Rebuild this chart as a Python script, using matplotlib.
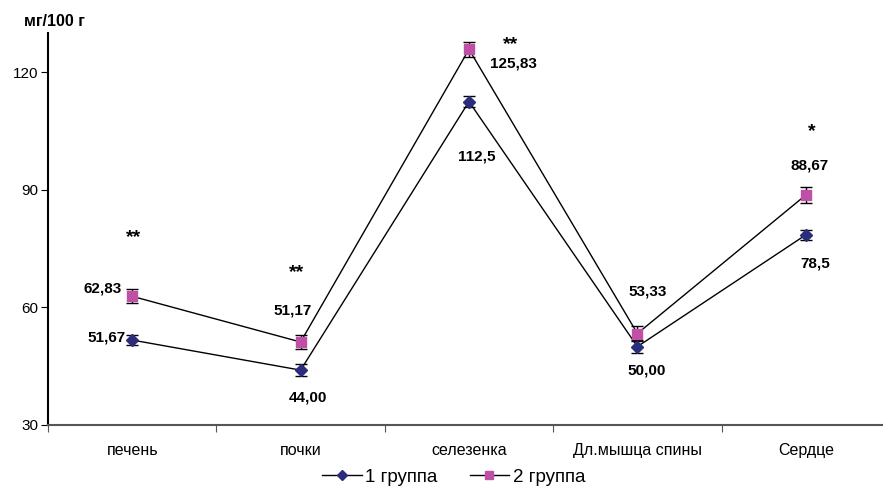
import matplotlib
matplotlib.use('Agg')
import matplotlib.pyplot as plt
from matplotlib.lines import Line2D
import numpy as np

plt.rcParams['font.family'] = ['Liberation Sans', 'DejaVu Sans']

organs = ['печень', 'почки', 'селезенка', 'Дл.мышца спины', 'Сердце']
gr1 = [51.67, 44.00, 112.5, 50.00, 78.5]
gr2 = [62.83, 51.17, 125.83, 53.33, 88.67]
err1 = [1.2, 1.5, 1.5, 1.7, 1.3]
err2 = [1.8, 1.8, 2.0, 1.8, 2.1]
lab1 = ['51,67', '44,00', '112,5', '50,00', '78,5']
lab2 = ['62,83', '51,17', '125,83', '53,33', '88,67']
stars = ['**', '**', '**', '', '*']

# смещения подписей (пиксели, вверх +)
off1 = [(-7, 3, 'right'), (7, -27, 'center'), (8, -55, 'center'), (9, -24, 'center'), (9, -29, 'center')]
off2 = [(-10, 8, 'right'), (-8, 32, 'center'), (44, -14, 'center'), (10, 42, 'center'), (4, 30, 'center')]
off_st = [(1, 59), (-4, 69), (42, 5), (0, 0), (6, 63)]

fig = plt.figure(figsize=(8.83, 4.86), dpi=100)
ax = fig.add_axes([48/883, 61/486, 842/883, 392/486])

x = np.arange(len(organs)) + 0.5
c1 = '#2B2C7C'
c2 = '#C04FA6'

ax.errorbar(x, gr1, yerr=err1, color='black', lw=1, ecolor='black', elinewidth=1,
            capsize=4, capthick=1, marker='D', ms=6, mfc=c1, mec=c1, zorder=3)
ax.errorbar(x, gr2, yerr=err2, color='black', lw=1, ecolor='black', elinewidth=1,
            capsize=4, capthick=1, marker='s', ms=6.5, mfc=c2, mec=c2, zorder=3)

for i in range(len(organs)):
    dx, dy, ha = off1[i]
    ax.annotate(lab1[i], (x[i], gr1[i]), xytext=(dx, dy), textcoords='offset pixels',
                ha=ha, va='center', fontsize=11, fontweight='bold')
    dx, dy, ha = off2[i]
    ax.annotate(lab2[i], (x[i], gr2[i]), xytext=(dx, dy), textcoords='offset pixels',
                ha=ha, va='center', fontsize=11, fontweight='bold')
    if stars[i]:
        dx, dy = off_st[i]
        ax.annotate(stars[i], (x[i], gr2[i]), xytext=(dx, dy), textcoords='offset pixels',
                    ha='center', va='center', fontsize=14, fontweight='bold')

ax.set_xlim(0, len(organs))
ax.set_ylim(30, 130)
ax.set_yticks([30, 60, 90, 120])
ax.set_xticks(np.arange(len(organs) + 1))
ax.set_xticklabels([])
ax.set_xticks(x, minor=True)
ax.set_xticklabels(organs, minor=True)
ax.tick_params(axis='x', which='minor', length=0, pad=13, labelsize=11.5)
ax.tick_params(axis='x', which='major', length=5, color='#555555')
ax.tick_params(axis='y', length=5, labelsize=11, pad=2)

ax.spines['top'].set_visible(False)
ax.spines['right'].set_visible(False)
ax.spines['bottom'].set_color('#555555')
ax.spines['bottom'].set_linewidth(1.5)
ax.spines['left'].set_linewidth(1.5)

fig.text(24/883, 1 - 22/486, 'мг/100 г', fontsize=11.5, fontweight='bold', va='center')

handles = [Line2D([], [], color='black', lw=1, marker='D', ms=5.5, mfc=c1, mec=c1),
           Line2D([], [], color='black', lw=1, marker='s', ms=6, mfc=c2, mec=c2)]
ax.legend(handles, ['1 группа', '2 группа'], loc='center', bbox_to_anchor=(0.482, -0.133),
          ncol=2, frameon=False, fontsize=13.5, handlelength=2.1, handletextpad=0.2,
          columnspacing=1.7, borderpad=0)

fig.savefig('out.png', dpi=100)
